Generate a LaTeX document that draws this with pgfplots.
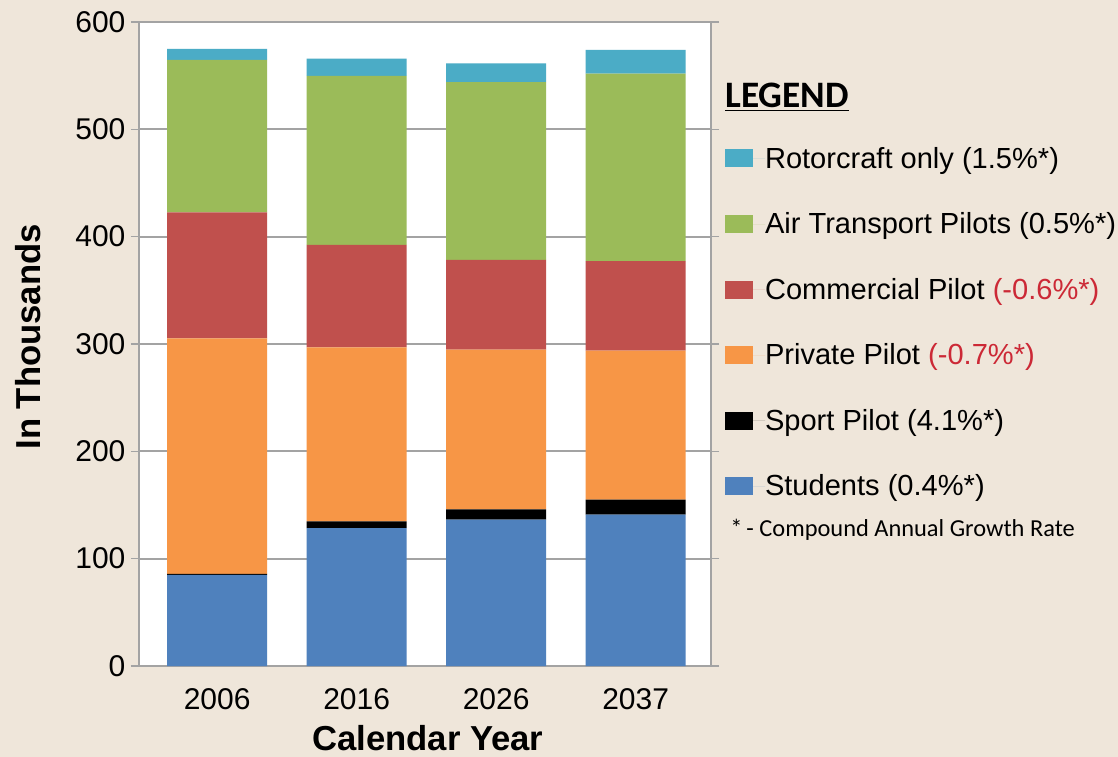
\documentclass[border=0pt]{standalone}
\usepackage{fontspec}
\setmainfont{Liberation Sans}
\newfontfamily\carlito{Carlito}
\usepackage{pgfplots}
\pgfplotsset{compat=1.18}
\definecolor{bg}{HTML}{EFE6DA}
\definecolor{cRotor}{HTML}{4BACC6}
\definecolor{cATP}{HTML}{9BBB59}
\definecolor{cComm}{HTML}{C0504D}
\definecolor{cPriv}{HTML}{F79646}
\definecolor{cStud}{HTML}{4F81BD}
\definecolor{redtxt}{HTML}{CC2936}
\definecolor{gridgray}{HTML}{A3A3A3}
\begin{document}
\begin{tikzpicture}
\path[use as bounding box, fill=bg] (-104.25pt,-68.25pt) rectangle (734.25pt,499.5pt);
\begin{axis}[
  at={(0pt,0pt)}, anchor=south west,
  scale only axis, width=429pt, height=483pt,
  clip=false,
  axis background/.style={fill=white},
  ybar stacked, bar width=0.716,
  xmin=-0.56, xmax=3.54, ymin=0, ymax=600,
  ytick={0,100,...,600},
  xtick={0,1,2,3}, xticklabels={2006,2016,2026,2037},
  xtick style={draw=none},
  ytick style={draw=gridgray, line width=1pt},
  tick align=outside, major tick length=6pt,
  ymajorgrids, grid style={gridgray, line width=1.3pt},
  axis line style={draw=gridgray, line width=1pt},
  /pgf/number format/assume math mode=true,
  tick label style={font=\fontsize{22.5}{26}\selectfont},
  yticklabel style={inner sep=0pt, xshift=-4pt},
  xticklabel style={inner sep=0pt, yshift=-11pt},
  xlabel={\textbf{Calendar Year}},
  ylabel={\textbf{In Thousands}},
  label style={font=\fontsize{26}{30}\selectfont},
  xlabel style={at={(axis description cs:0.505,-0.112)}, anchor=center},
  ylabel style={at={(axis description cs:-0.194,0.511)}, anchor=center},
  legend image code/.code={\fill[#1,draw=none] (0pt,-6.75pt) rectangle (21pt,6.75pt); \path (0pt,0pt) -- (30pt,0pt);},
  reverse legend,
  legend style={at={(axis description cs:1.0245,0.806)}, anchor=north west,
    draw=none, fill=none, inner sep=0pt, outer sep=0pt, row sep=31.9pt,
    cells={anchor=west}, font=\fontsize{21.8}{25}\selectfont, nodes={inner sep=0pt}},
]
\addplot[fill=cStud, draw=none] coordinates {(0,84.9) (1,128.5) (2,136.3) (3,141)};
\addlegendentry{Students (0.4\%*)}
\addplot[fill=black, draw=none] coordinates {(0,0.9) (1,6.2) (2,9.7) (3,14)};
\addlegendentry{Sport Pilot (4.1\%*)}
\addplot[fill=cPriv, draw=none] coordinates {(0,219.5) (1,162.2) (2,148.7) (3,138.8)};
\addlegendentry{Private Pilot \textcolor{redtxt}{(-0.7\%*)}}
\addplot[fill=cComm, draw=none] coordinates {(0,117.4) (1,95.5) (2,83.6) (3,83.5)};
\addlegendentry{Commercial Pilot \textcolor{redtxt}{(-0.6\%*)}}
\addplot[fill=cATP, draw=none] coordinates {(0,141.9) (1,157.5) (2,165.7) (3,174.7)};
\addlegendentry{Air Transport Pilots (0.5\%*)}
\addplot[fill=cRotor, draw=none] coordinates {(0,10.4) (1,16) (2,17.5) (3,22)};
\addlegendentry{Rotorcraft only (1.5\%*)}
\node[anchor=west, inner sep=0pt, font=\carlito\bfseries\fontsize{28}{32}\selectfont] at (axis description cs:1.0245,0.8835) {\underline{LEGEND}};
\node[anchor=west, inner sep=0pt, font=\carlito\fontsize{18.3}{22}\selectfont] at (axis description cs:1.0332,0.211) {*\,- Compound Annual Growth Rate};
\end{axis}
\end{tikzpicture}
\end{document}
